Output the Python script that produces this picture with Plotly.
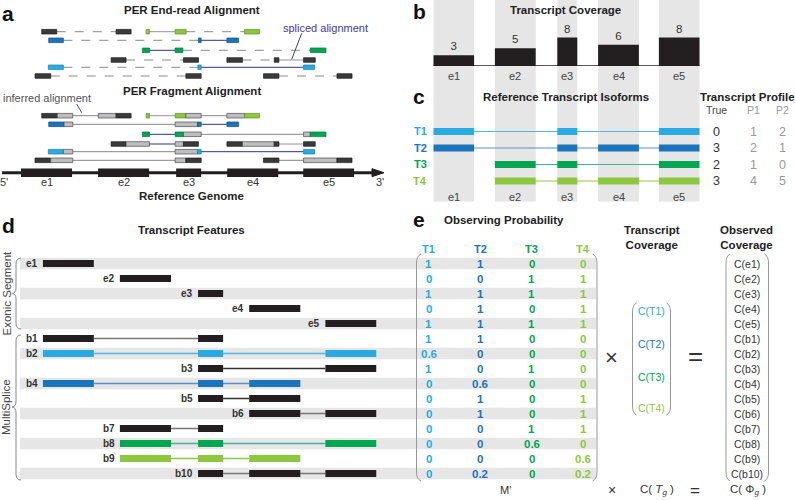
import plotly.graph_objects as go

# ---------------- data ----------------
EXONS = ["e1", "e2", "e3", "e4", "e5"]
EXON_START = [0, 77, 155, 206, 282]
EXON_END = [51, 128, 180, 257, 333]
COVERAGE = [3, 5, 8, 6, 8]

ISOFORMS = ["T1", "T2", "T3", "T4"]
ISOFORM_EXONS = [[0, 2, 4], [0, 2, 3, 4], [1, 2, 4], [1, 2, 3, 4]]
PROFILE_HEADERS = ["True", "P1", "P2"]
PROFILE_TRUE = [0, 3, 2, 3]
PROFILE_P1 = [1, 2, 1, 4]
PROFILE_P2 = [2, 1, 0, 5]

FEATURES = ["e1", "e2", "e3", "e4", "e5", "b1", "b2", "b3", "b4", "b5",
            "b6", "b7", "b8", "b9", "b10"]
FEATURE_EXONS = [[0], [1], [2], [3], [4], [0, 2], [0, 2, 4], [2, 4], [0, 2, 3],
                 [2, 3], [3, 4], [1, 2], [1, 2, 4], [1, 2, 3], [2, 3, 4]]
FEATURE_ISOFORM = [None, None, None, None, None, None, "T1", None, "T2", None,
                   None, None, "T3", "T4", None]
PROB_T1 = [1, 0, 1, 0, 1, 1, 0.6, 1, 0, 0, 0, 0, 0, 0, 0]
PROB_T2 = [1, 0, 1, 1, 1, 1, 0, 0, 0.6, 1, 1, 0, 0, 0, 0.2]
PROB_T3 = [0, 1, 1, 0, 1, 0, 0, 1, 0, 0, 0, 1, 0.6, 0, 0]
PROB_T4 = [0, 1, 1, 1, 1, 0, 0, 0, 0, 1, 1, 1, 0, 0.6, 0.2]

# end-read pairs: (row, colour key, boxes in genome units, link types)
END_READS = [
    (0, "D", [(20.7, 35.7), (95, 110)], ["d"]),
    (0, "T4", [(125, 128.3), (154, 165), (223.3, 238.3)], ["s2", "d"]),
    (1, "T2", [(27.7, 42.3), (177.3, 180), (205.7, 217.3)], ["d", "s"]),
    (2, "T3", [(121.3, 128.3), (154, 161.7), (289, 304.7)], ["s", "d"]),
    (3, "D", [(90, 105), (162.3, 177.3)], ["d"]),
    (3, "D", [(205.7, 221.3), (253, 257.7), (282.3, 294)], ["d", "s2"]),
    (4, "T1", [(27.3, 42.3), (176.7, 180), (282.3, 293.3)], ["d", "s"]),
    (5, "D", [(14, 29.7), (164.7, 180)], ["d"]),
    (5, "D", [(242.3, 257.7), (315.7, 330.7)], ["d"]),
]
# fragments: (row, boxes (start, end, colour key), link types)
FRAGMENTS = [
    (0, [(20.7, 36.3, "D"), (36.3, 51.7, "F"), (77.3, 95, "F"), (95, 110, "D")], ["g"]),
    (0, [(125, 128.3, "T4"), (154, 164.7, "T4"), (164.7, 180, "F"),
         (205.7, 223.3, "F"), (223.3, 238.3, "T4")], ["s2", "g"]),
    (1, [(27.7, 43, "T2"), (43, 51.7, "F"), (154, 176.3, "F"), (176.3, 180, "T2"),
         (205.7, 217.3, "T2")], ["g", "s"]),
    (2, [(121.3, 128.3, "T3"), (154, 162.3, "T3"), (162.3, 180, "F"),
         (282.3, 289, "F"), (289, 304.7, "T3")], ["s", "g"]),
    (3, [(90, 105, "D"), (105, 128.3, "F"), (154, 162.3, "F"), (162.3, 177.3, "D")], ["s"]),
    (3, [(205.7, 221.3, "D"), (221.3, 253, "F"), (253, 257.7, "D"), (282.3, 294, "D")], ["s2"]),
    (4, [(27.3, 42.3, "T1"), (42.3, 51.7, "F"), (154, 176.3, "F"), (176.3, 180, "T1"),
         (282.3, 293.3, "T1")], ["g", "s"]),
    (5, [(14, 29.7, "D"), (29.7, 51.7, "F"), (154, 164.7, "F"), (164.7, 180, "D")], ["g"]),
    (5, [(242.3, 257.7, "D"), (282.3, 315.7, "F"), (315.7, 330.7, "D")], ["g"]),
]

# ---------------- styles / layout geometry ----------------
FONT = "Liberation Sans, Arial, sans-serif"
COL = {"T1": "#29ABE2", "T2": "#1B75BC", "T3": "#00A651", "T4": "#8DC63F",
       "D": "#3A3A3B", "F": "#BDBEC0"}
COL_EDGE = {"T1": "#1A7FAE", "T2": "#124F84", "T3": "#00753A", "T4": "#5E8F24",
            "D": "#1E1E1E", "F": "#4D4D4D"}
INTRON = {"T1": "#4FB8E6", "T2": "#5A8FC8", "T3": "#4AAE9A", "T4": "#8DC63F"}
LINK = {"d": ("#8A8A8A", "dash"), "g": ("#858585", "solid"),
        "s": ("#2E3192", "solid"), "s2": ("#9090C0", "solid")}
DARK = "#231F20"
STRIPE = "#E6E6E6"
TS = 11.5  # title size
END_Y = [31.7, 40.3, 50.3, 60, 67.3, 76]
FRAG_Y = [115.7, 124.3, 134.3, 144, 151.7, 160.3]
ISO_Y = [131.5, 148, 164.5, 181]
ROW_Y0, ROW_DY = 263.5, 15
MAT_X = [428.5, 480, 531.5, 583]
PROF_X = [716.5, 753, 782]

shapes = []
ann = []


def rect(xref, x0, x1, y0, y1, fill, lc=None, lw=0, layer="above"):
    shapes.append(dict(type="rect", xref=xref, yref="y", x0=x0, x1=x1, y0=y0, y1=y1,
                       fillcolor=fill, line=dict(color=lc or fill, width=lw), layer=layer))


def hline(xref, x0, x1, y, color, width=1.0, dash="solid"):
    shapes.append(dict(type="line", xref=xref, yref="y", x0=x0, x1=x1, y0=y, y1=y,
                       line=dict(color=color, width=width, dash=dash)))


def seg(x0, y0, x1, y1, color, width=1.0):
    shapes.append(dict(type="line", xref="x", yref="y", x0=x0, x1=x1, y0=y0, y1=y1,
                       line=dict(color=color, width=width)))


def path(p, color, width=1.0, fill=None):
    d = dict(type="path", xref="x", yref="y", path=p, line=dict(color=color, width=width))
    if fill:
        d["fillcolor"] = fill
    shapes.append(d)


def text(x, y, s, size=11, color="#333333", bold=False, xref="x", xanchor="center",
         xshift=0, textangle=0):
    ann.append(dict(x=x, y=y, xref=xref, yref="y", text=("<b>%s</b>" % s) if bold else s,
                    showarrow=False, xanchor=xanchor, yanchor="middle", xshift=xshift,
                    textangle=textangle, font=dict(family=FONT, size=size, color=color)))


def fmt(v):
    return "%g" % v


# ---------------- panel a ----------------
text(8, 13, "a", 21, "#111111", True)
text(191.7, 9.5, "PER End-read Alignment", TS, "#222222", True)
RH = 2.3
for row, key, boxes, links in END_READS:
    y = END_Y[row]
    for (a0, a1), (b0, b1), lk in zip(boxes[:-1], boxes[1:], links):
        c, dsh = LINK[lk]
        hline("x2", a1, b0, y, c, 1.0, dsh)
    for b0, b1 in boxes:
        rect("x2", b0, b1, y - RH, y + RH, COL[key], COL_EDGE[key], 0.7)
text(325, 27.5, "spliced alignment", 11, "#3C3C96")
seg(301.7, 33.3, 291.7, 59.3, "#3C3C96", 1)

text(191.7, 90.5, "PER Fragment Alignment", TS, "#222222", True)
text(46.5, 97.7, "inferred alignment", 11, "#555555")
seg(76.7, 104, 81.7, 112.7, "#555555", 1)
for row, boxes, links in FRAGMENTS:
    y = FRAG_Y[row]
    li = 0
    for a, b in zip(boxes[:-1], boxes[1:]):
        if b[0] - a[1] > 0.5:
            c, dsh = LINK[links[li]]
            hline("x2", a[1], b[0], y, c, 1.0, dsh)
            li += 1
    for b0, b1, key in boxes:
        rect("x2", b0, b1, y - RH, y + RH, COL[key], COL_EDGE[key], 0.7)

# reference genome
seg(2, 172.7, 374, 172.7, DARK, 3)
path("M 372,168.7 L 384,172.7 L 372,176.7 Z", DARK, 1, DARK)
for i, e in enumerate(EXONS):
    rect("x2", EXON_START[i], EXON_END[i], 168.5, 177, DARK)
    text((EXON_START[i] + EXON_END[i]) / 2, 182, e, 11, "#333333", xref="x2")
text(4, 182, "5'", 11, "#333333")
text(380, 182, "3'", 11, "#333333")
text(191.7, 195.5, "Reference Genome", TS, "#222222", True)

# ---------------- panel b / c ----------------
for i in range(5):
    rect("x4", EXON_START[i], EXON_END[i], 0, 201.5, STRIPE, layer="below")
    text((EXON_START[i] + EXON_END[i]) / 2, 76, EXONS[i], 11, "#444444", xref="x4")
    text((EXON_START[i] + EXON_END[i]) / 2, 196.5, EXONS[i], 11, "#444444", xref="x4")
text(419, 11, "b", 21, "#111111", True)
text(565.7, 10, "Transcript Coverage", TS, "#222222", True)
shapes.append(dict(type="line", xref="x4", yref="y2", x0=EXON_START[0], x1=EXON_END[-1],
                   y0=0, y1=0, line=dict(color=DARK, width=1.5)))

text(419, 96, "c", 21, "#111111", True)
text(565.7, 97, "Reference Transcript Isoforms", TS, "#222222", True)
text(747.5, 97, "Transcript Profile", TS, "#222222", True)
for j, h in enumerate(PROFILE_HEADERS):
    text(PROF_X[j], 109.5, h, 10.5, "#444444" if j == 0 else "#999999")
for k, iso in enumerate(ISOFORMS):
    y = ISO_Y[k]
    ex = ISOFORM_EXONS[k]
    hline("x4", EXON_END[ex[0]], EXON_START[ex[-1]], y, INTRON[iso], 1.2)
    for e in ex:
        rect("x4", EXON_START[e], EXON_END[e], y - 3.6, y + 3.6, COL[iso])
    text(420, y - 0.5, iso, 11, COL[iso], True)
    for j, vals in enumerate([PROFILE_TRUE, PROFILE_P1, PROFILE_P2]):
        text(PROF_X[j], y, str(vals[k]), 12.5, "#333333" if j == 0 else "#999999")

# ---------------- panel d ----------------
text(8, 225, "d", 21, "#111111", True)
text(191.7, 229.5, "Transcript Features", TS, "#222222", True)
for i in range(len(FEATURES)):
    y = ROW_Y0 + ROW_DY * i
    if i % 2 == 0:
        rect("x", 20, 596, y - 5.7, y + 5.7, STRIPE, layer="below")
    ex = FEATURE_EXONS[i]
    iso = FEATURE_ISOFORM[i]
    fill = COL[iso] if iso else DARK
    if len(ex) > 1:
        lc = INTRON[iso] if iso else ("#333333" if i in (7, 9) else "#777777")
        hline("x3", EXON_END[ex[0]], EXON_START[ex[-1]], y, lc, 1.3)
    for e in ex:
        rect("x3", EXON_START[e], EXON_END[e], y - 3.6, y + 3.6, fill)
    text(EXON_START[ex[0]], y - 0.5, FEATURES[i], 10, "#333333", True, xref="x3",
         xanchor="right", xshift=-3)

path("M 21,258 Q 16,258 16,264 L 16,288 Q 16,293.5 12,293.5 Q 16,293.5 16,299 "
     "L 16,323 Q 16,329 21,329", "#888888", 1)
path("M 21,335 Q 16,335 16,341 L 16,401 Q 16,407 12,407 Q 16,407 16,413 "
     "L 16,474 Q 16,480 21,480", "#888888", 1)
text(6, 293.5, "Exonic Segment", 11.5, "#444444", textangle=-90)
text(6, 407, "MultiSplice", 11.5, "#444444", textangle=-90)

# ---------------- panel e ----------------
text(419, 219, "e", 21, "#111111", True)
text(503.5, 220, "Observing Probability", TS, "#222222", True)
text(651.7, 237.5, "Transcript<br>Coverage", TS, "#222222", True)
text(746, 237.5, "Observed<br>Coverage", TS, "#222222", True)
for j, (iso, vals) in enumerate(zip(ISOFORMS, [PROB_T1, PROB_T2, PROB_T3, PROB_T4])):
    text(MAT_X[j], 248.5, iso, 11, COL[iso], True)
    for i, v in enumerate(vals):
        text(MAT_X[j], ROW_Y0 + ROW_DY * i, fmt(v), 11.5, COL[iso], True)
for i, f in enumerate(FEATURES):
    text(747, ROW_Y0 + ROW_DY * i, "C(%s)" % f, 10.5, "#333333")
CT_Y = [311, 343.5, 376.5, 407.5]
for k, iso in enumerate(ISOFORMS):
    text(651, CT_Y[k], "C(%s)" % iso, 10.5, COL[iso])


def paren(xe, xt, y0, y1):
    path("M %s,%s Q %s,%s %s,%s L %s,%s Q %s,%s %s,%s" % (
        xt, y0, xe, y0 + 2, xe, y0 + 9, xe, y1 - 9, xe, y1 - 2, xt, y1), "#999999", 1)


paren(416.5, 421, 254, 481)
paren(597, 592.5, 254, 481)
paren(632.5, 636.5, 303, 415)
paren(670.5, 666.5, 303, 415)
paren(726, 730, 254, 481)
paren(768.5, 764.5, 254, 481)
text(611.7, 357, "×", 22, "#333333")
text(695, 356, "=", 26, "#333333")
text(505, 490, "M'", 11, "#333333")
text(611.7, 490, "×", 14, "#333333")
text(656.7, 490, "C( <i>T</i><sub><i>g</i></sub> )", 11.5, "#333333")
text(695, 490, "=", 17, "#333333")
text(748.3, 490, "C( Φ<sub><i>g</i></sub> )", 11.5, "#333333")

# ---------------- figure ----------------
fig = go.Figure()
for xa in ["x2", "x3"]:
    fig.add_trace(go.Scatter(x=[], y=[], xaxis=xa, yaxis="y", showlegend=False,
                             hoverinfo="skip"))
centers = [(a + b) / 2 for a, b in zip(EXON_START, EXON_END)]
widths = [b - a for a, b in zip(EXON_START, EXON_END)]
fig.add_trace(go.Bar(x=centers, y=COVERAGE, width=widths, xaxis="x4", yaxis="y2",
                     marker=dict(color=DARK, line=dict(width=0)), text=COVERAGE,
                     textposition="outside", cliponaxis=False, showlegend=False,
                     textfont=dict(family=FONT, size=11.5, color="#333333"),
                     hoverinfo="skip"))

ax = dict(visible=False, showgrid=False, zeroline=False, fixedrange=True)
fig.update_layout(
    width=795, height=500, autosize=False,
    margin=dict(l=0, r=0, t=0, b=0),
    paper_bgcolor="white", plot_bgcolor="rgba(0,0,0,0)",
    xaxis=dict(ax, range=[0, 795], domain=[0, 1], anchor="y"),
    yaxis=dict(ax, range=[500, 0], domain=[0, 1], anchor="x"),
    xaxis2=dict(ax, range=[0, 333], domain=[21 / 795, 354.3 / 795], anchor="y"),
    xaxis3=dict(ax, range=[0, 333], domain=[42.7 / 795, 376.5 / 795], anchor="y"),
    xaxis4=dict(ax, range=[0, 333], domain=[433.3 / 795, 699.7 / 795], anchor="y2"),
    yaxis2=dict(ax, range=[0, 10], domain=[1 - 66 / 500, 1 - 30.5 / 500], anchor="x4"),
    shapes=shapes, annotations=ann, showlegend=False,
    font=dict(family=FONT),
)
fig.write_html("out.html", config={"displayModeBar": False},
               post_script="document.body.style.margin='0';"
               "document.body.style.overflow='hidden';")
